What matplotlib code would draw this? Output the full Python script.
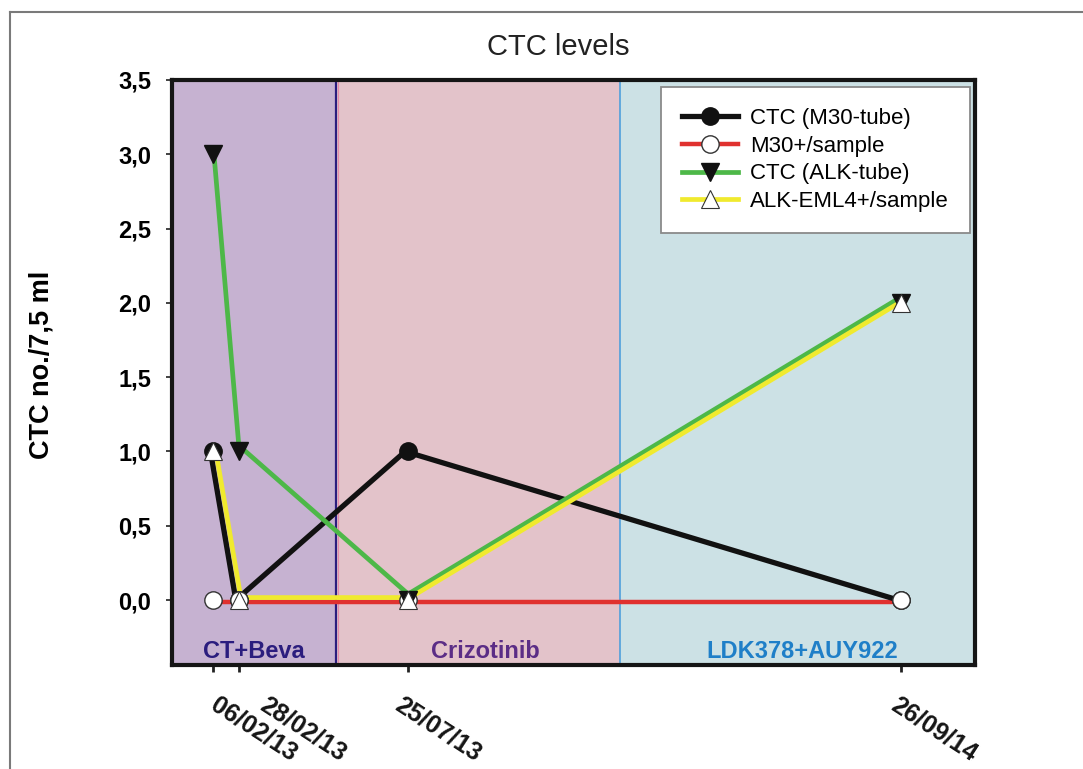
import datetime as dt
import matplotlib
matplotlib.use("Agg")
import matplotlib.pyplot as plt
import matplotlib.dates as mdates
from matplotlib.transforms import offset_copy, blended_transform_factory
from matplotlib.lines import Line2D

plt.rcParams['font.family'] = ['Liberation Sans', 'DejaVu Sans']

# ---------------- data ----------------
dates = [dt.date(2013, 2, 6), dt.date(2013, 2, 28), dt.date(2013, 7, 25), dt.date(2014, 9, 26)]
date_labels = ["06/02/13", "28/02/13", "25/07/13", "26/09/14"]
ctc_m30 = [1.0, 0.0, 1.0, 0.0]
m30_sample = [0.0, 0.0, 0.0, 0.0]
ctc_alk = [3.0, 1.0, 0.0, 2.0]
alk_eml4_sample = [1.0, 0.0, 0.0, 2.0]
series_names = ["CTC (M30-tube)", "M30+/sample", "CTC (ALK-tube)", "ALK-EML4+/sample"]

phase_names = ["CT+Beva", "Crizotinib", "LDK378+AUY922"]
phase_starts = [dt.date(2013, 1, 1), dt.date(2013, 5, 23), dt.date(2014, 1, 25)]
phase_ends = [dt.date(2013, 5, 23), dt.date(2014, 1, 25), dt.date(2014, 11, 29)]

y_ticks = [0.0, 0.5, 1.0, 1.5, 2.0, 2.5, 3.0, 3.5]
y_tick_labels = ["0,0", "0,5", "1,0", "1,5", "2,0", "2,5", "3,0", "3,5"]

# ---------------- styling ----------------
phase_colors = ["#c6b2d1", "#e3c3ca", "#cce1e5"]
phase_text_colors = ["#2b1d7e", "#5b2d86", "#1f7fc8"]
phase_text_dx = [0, 7, 5]  # px nudges
c_black, c_red, c_green, c_yellow = "#111111", "#e0312f", "#4db848", "#f0ea2e"

W, H = 1083, 769
fig = plt.figure(figsize=(W / 100, H / 100), dpi=100)
ax = fig.add_axes([172 / W, 1 - 665 / H, (975 - 172) / W, (665 - 80) / H])

ax.set_xlim(phase_starts[0], phase_ends[-1])
ax.set_ylim(-0.437, 3.5)

tb = blended_transform_factory(ax.transData, ax.transAxes)
num = mdates.date2num

# phases
for s, e, c in zip(phase_starts, phase_ends, phase_colors):
    ax.axvspan(s, e, color=c, zorder=0, lw=0)
b1 = num(phase_starts[1])
ax.plot([b1, b1], [0, 1], color="#e58aa8", lw=0.8, zorder=0.9,
        transform=offset_copy(tb, fig=fig, x=2, y=0, units='dots'))
ax.axvline(phase_starts[1], color="#2b1d7e", lw=1.6, zorder=1)
ax.axvline(phase_starts[2], color="#4f9fdc", lw=1.2, zorder=1)

for s, e, name, c, ndx in zip(phase_starts, phase_ends, phase_names, phase_text_colors, phase_text_dx):
    mid = (num(s) + num(e)) / 2
    ax.text(mid, 0.012, name, ha="center", va="baseline",
            transform=offset_copy(tb, fig=fig, x=ndx, y=0, units='dots'),
            fontsize=17, fontweight="bold", color=c, zorder=6)

def off(dx, dy):
    return offset_copy(ax.transData, fig=fig, x=dx, y=dy, units='dots')

xs = num(dates)
# lines (slightly offset so overlapping series stay visible, as in the original)
ax.plot(xs, m30_sample, color=c_red, lw=3.2, zorder=2.1, transform=off(0, -1.5),
        solid_capstyle="butt")
ax.plot(xs, ctc_m30, color=c_black, lw=3.8, zorder=2.2, transform=off(-3, 0))
ax.plot(xs, ctc_alk, color=c_green, lw=3.4, zorder=2.3, transform=off(0, 6))
ax.plot(xs, alk_eml4_sample, color=c_yellow, lw=3.4, zorder=2.4, transform=off(2, 2.5))

# markers
ax.plot(xs, ctc_m30, ls="none", marker="o", ms=12.5, mfc=c_black, mec=c_black, zorder=4.9)
ax.plot(xs, m30_sample, ls="none", marker="o", ms=12.5, mfc="white", mec="#333333", mew=1.0, zorder=5.1)
ax.plot(xs, ctc_alk, ls="none", marker="v", ms=13, mfc=c_black, mec=c_black, zorder=5.2)
ax.plot(xs, alk_eml4_sample, ls="none", marker="^", ms=13, mfc="white", mec="#333333", mew=0.8, zorder=5.3)

# legend
handles = [
    Line2D([], [], color=c_black, lw=3.8, marker="o", ms=12.5, mfc=c_black, mec=c_black),
    Line2D([], [], color=c_red, lw=3.2, marker="o", ms=12.5, mfc="white", mec="#333333", mew=1.0),
    Line2D([], [], color=c_green, lw=3.4, marker="v", ms=13, mfc=c_black, mec=c_black),
    Line2D([], [], color=c_yellow, lw=3.4, marker="^", ms=13, mfc="white", mec="#333333", mew=0.8),
]
leg = ax.legend(handles, series_names, loc="upper right",
                bbox_to_anchor=((970 - 172) / 803, 1 - (87 - 80) / 585),
                borderaxespad=0, fontsize=16, frameon=True, fancybox=False,
                edgecolor="#8a8a8a", framealpha=1, numpoints=1, handlelength=2.5,
                labelspacing=0.3, handletextpad=0.55, borderpad=0.95)
leg.get_frame().set_linewidth(1.3)
leg.set_zorder(10)

# axes styling
for sp in ax.spines.values():
    sp.set_linewidth(3.0)
    sp.set_color("#151515")
    sp.set_zorder(8)

ax.set_yticks(y_ticks)
ax.set_yticklabels(y_tick_labels, fontsize=17, fontweight="bold")
ax.tick_params(axis="y", direction="out", length=4, width=1.3, color="#333333", pad=11)

ax.set_xticks(dates)
ax.set_xticklabels([""] * len(dates))
ax.tick_params(axis="x", direction="out", length=5, width=2, color="#222222")

label_dx = [6, 30, -4, -2]
for x, lab, dx in zip(xs, date_labels, label_dx):
    ax.annotate(lab, xy=(x, 0), xycoords=tb, xytext=(dx * 0.72, -28 * 0.72),
                textcoords="offset points", rotation=-33, rotation_mode="anchor",
                ha="left", va="top", fontsize=18, fontweight="bold", color="#151515",
                annotation_clip=False)

ax.set_ylabel("CTC no./7,5 ml", fontsize=19.5, fontweight="bold", va="center")
ax.yaxis.set_label_coords((42 - 172) / 803, (665 - 365) / 585)

fig.text(558 / W, 1 - 47 / H, "CTC levels", ha="center", va="center", fontsize=21, color="#222222")

# figure frame (partial border as in original)
fig.add_artist(Line2D([9.5 / W, 9.5 / W], [0, 1 - 11.5 / H], transform=fig.transFigure,
                      color="#7a7a7a", lw=1.5))
fig.add_artist(Line2D([9.5 / W, 1], [1 - 11.5 / H, 1 - 11.5 / H], transform=fig.transFigure,
                      color="#7a7a7a", lw=1.5))

fig.savefig("out.png", dpi=100)
